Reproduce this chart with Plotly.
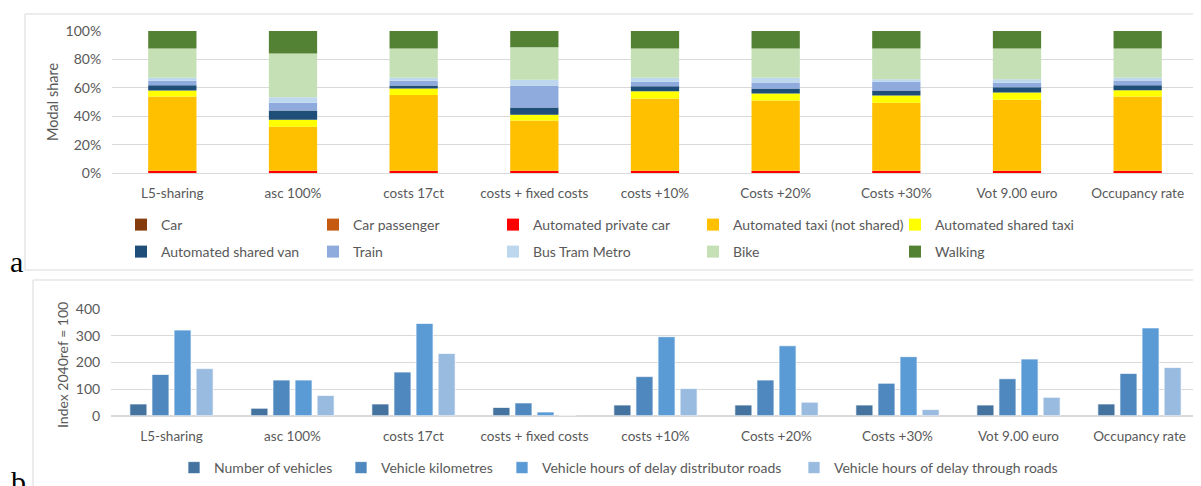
import numpy as np
import plotly.graph_objects as go

W, H = 1201, 486
OFF = 8  # default page margin of the html body


def fx(px):
    return (px - OFF) / W


def fy(py):
    return 1 - (py - OFF) / H


# ---------------- data ----------------
scenarios = ["L5-sharing", "asc 100%", "costs 17ct", "costs + fixed costs", "costs +10%",
             "Costs +20%", "Costs +30%", "Vot 9.00 euro", "Occupancy rate"]

# Panel a: modal share (%)
car = [0, 0, 0, 0, 0, 0, 0, 0, 0]
car_passenger = [0, 0, 0, 0, 0, 0, 0, 0, 0]
automated_private_car = [1.6, 1.6, 1.6, 1.6, 1.6, 1.6, 1.6, 1.6, 1.6]
automated_taxi = [52.3, 31.0, 53.4, 35.4, 50.9, 49.5, 47.8, 49.9, 52.3]
automated_shared_taxi = [4.2, 4.9, 4.5, 4.0, 5.1, 4.9, 5.2, 5.2, 4.4]
automated_shared_van = [3.7, 6.5, 2.1, 5.1, 3.5, 3.5, 3.5, 3.7, 3.5]
train = [3.1, 5.4, 3.3, 15.5, 3.1, 4.2, 6.1, 3.1, 3.3]
bus_tram_metro = [2.1, 4.0, 2.1, 4.0, 2.8, 3.3, 1.8, 2.5, 2.1]
bike = [20.6, 30.7, 20.6, 22.9, 20.6, 20.6, 21.6, 21.6, 20.4]
walking = [12.4, 15.9, 12.4, 11.5, 12.4, 12.4, 12.4, 12.4, 12.4]

# Panel b: index 2040ref = 100
number_of_vehicles = [44, 28, 44, 31, 40, 40, 40, 40, 44]
vehicle_kilometres = [155, 134, 164, 48, 147, 134, 122, 139, 159]
delay_distributor_roads = [322, 134, 347, 14, 297, 263, 222, 213, 330]
delay_through_roads = [177, 76, 234, 0, 102, 51, 23, 69, 181]

# ---------------- styling ----------------
FONT = "Lato"
TXT = "#595959"
GRID = "#D9D9D9"

modes = [
    ("Car", car, "#843C0C"),
    ("Car passenger", car_passenger, "#C55A11"),
    ("Automated private car", automated_private_car, "#FF0000"),
    ("Automated taxi (not shared)", automated_taxi, "#FFC000"),
    ("Automated shared taxi", automated_shared_taxi, "#FFFF00"),
    ("Automated shared van", automated_shared_van, "#1F4E79"),
    ("Train", train, "#8FAADC"),
    ("Bus Tram Metro", bus_tram_metro, "#BDD7EE"),
    ("Bike", bike, "#C5E0B4"),
    ("Walking", walking, "#548235"),
]
# legend layout (px): swatch-left x, row centre y, shift of legend box left of swatch
legend_a_pos = [(147, 225, 26), (339, 225, 26), (519, 225, 26), (719, 225, 26), (911, 225, 16),
                (147, 252, 26), (339, 252, 26), (519, 252, 26), (719, 252, 26), (911, 252, 16)]

indicators = [
    ("Number of vehicles", number_of_vehicles, "#44739F"),
    ("Vehicle kilometres", vehicle_kilometres, "#4F88BE"),
    ("Vehicle hours of delay distributor roads", delay_distributor_roads, "#5B9BD5"),
    ("Vehicle hours of delay through roads", delay_through_roads, "#9ABBE0"),
]
legend_b_pos = [(200, 468, 26), (367, 468, 26), (528, 468, 26), (820, 468, 26)]

fig = go.Figure()
layout_legends = {}


def legend_cfg(px, py, shift, size):
    return dict(
        x=fx(px - shift), y=fy(py), xanchor="left", yanchor="middle",
        orientation="v", bgcolor="rgba(0,0,0,0)", borderwidth=0,
        font=dict(family=FONT, size=size, color=TXT),
    )


# stacked bars (panel a) via shared offsetgroup + cumulative base
base = np.zeros(len(scenarios))
for i, (name, vals, col) in enumerate(modes):
    lname = "legend" if i == 0 else f"legend{i + 1}"
    fig.add_trace(go.Bar(
        x=scenarios, y=vals, base=base.copy(), name=name,
        marker=dict(color=col, line=dict(width=0)),
        width=0.4, offsetgroup="stack", xaxis="x", yaxis="y",
        legend=lname, hoverinfo="name+y",
    ))
    base = base + np.array(vals, dtype=float)
    layout_legends[lname] = legend_cfg(*legend_a_pos[i], 14)

# grouped bars (panel b)
n_a = len(modes)
for j, (name, vals, col) in enumerate(indicators):
    lname = f"legend{n_a + j + 1}"
    fig.add_trace(go.Bar(
        x=scenarios, y=vals, name=name,
        marker=dict(color=col, line=dict(width=1, color="rgba(255,255,255,0.7)")),
        offsetgroup=f"g{j}", xaxis="x2", yaxis="y2", legend=lname,
    ))
    layout_legends[lname] = legend_cfg(*legend_b_pos[j], 14)

tick_font = dict(family=FONT, size=13.5, color=TXT)

fig.update_layout(
    width=W, height=H,
    margin=dict(l=0, r=0, t=0, b=0, autoexpand=False),
    paper_bgcolor="white", plot_bgcolor="white",
    barmode="group", bargap=0.27, bargroupgap=0.23,
    showlegend=True,
    font=dict(family=FONT, color=TXT),
    xaxis=dict(domain=[fx(112), fx(1198)], anchor="y", showgrid=False, showline=False,
               ticks="outside", ticklen=8, tickcolor="rgba(0,0,0,0)",
               tickfont=tick_font, zeroline=False),
    yaxis=dict(domain=[fy(173), fy(31)], anchor="x", range=[0, 100], dtick=20,
               ticksuffix="%", showgrid=True, gridcolor=GRID, gridwidth=1,
               zeroline=True, zerolinecolor=GRID, zerolinewidth=1,
               ticks="outside", ticklen=7, tickcolor="rgba(0,0,0,0)",
               tickfont=dict(family=FONT, size=14, color=TXT), showline=False),
    xaxis2=dict(domain=[fx(111), fx(1200)], anchor="y2", showgrid=False, showline=False,
                ticks="outside", ticklen=8, tickcolor="rgba(0,0,0,0)",
                tickfont=tick_font, zeroline=False),
    yaxis2=dict(domain=[fy(415.7), fy(309.3)], anchor="x2", range=[0, 400], dtick=100,
                showgrid=True, gridcolor=GRID, gridwidth=1,
                zeroline=True, zerolinecolor=GRID, zerolinewidth=2,
                ticks="outside", ticklen=7, tickcolor="rgba(0,0,0,0)",
                tickfont=dict(family=FONT, size=14, color=TXT), showline=False),
    shapes=[
        dict(type="rect", xref="paper", yref="paper", x0=fx(25), x1=fx(1215),
             y0=fy(270), y1=fy(14), line=dict(color=GRID, width=1)),
        dict(type="rect", xref="paper", yref="paper", x0=fx(33), x1=fx(1215),
             y0=fy(520), y1=fy(280), line=dict(color=GRID, width=1)),
    ],
    annotations=[
        dict(text="Modal share", xref="paper", yref="paper", x=fx(52), y=fy(102),
             textangle=-90, showarrow=False, font=dict(family=FONT, size=14.5, color=TXT),
             xanchor="center", yanchor="middle"),
        dict(text="Index 2040ref = 100", xref="paper", yref="paper", x=fx(62), y=fy(365),
             textangle=-90, showarrow=False, font=dict(family=FONT, size=14, color=TXT),
             xanchor="center", yanchor="middle"),
        dict(text="a", xref="paper", yref="paper", x=fx(8), y=fy(262),
             showarrow=False, font=dict(family="Liberation Serif", size=30, color="black"),
             xanchor="left", yanchor="middle"),
        dict(text="b", xref="paper", yref="paper", x=fx(9), y=fy(481),
             showarrow=False, font=dict(family="Liberation Serif", size=30, color="black"),
             xanchor="left", yanchor="middle"),
    ],
    **layout_legends,
)

fig.write_html("out.html")
